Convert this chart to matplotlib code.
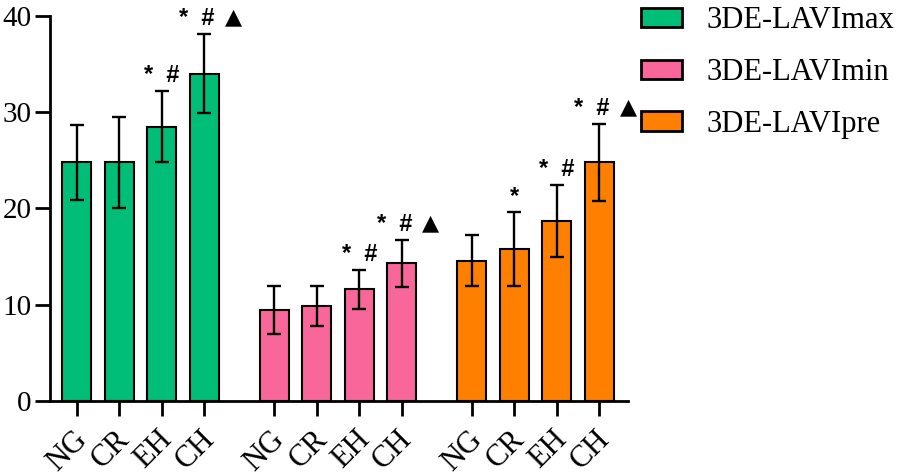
import numpy as np
import matplotlib
matplotlib.use("Agg")
import matplotlib.pyplot as plt
import matplotlib.transforms as mtransforms
from matplotlib.patches import Patch

plt.rcParams['font.family'] = ['Liberation Serif', 'DejaVu Sans']

groups = ['NG', 'CR', 'EH', 'CH']
series = ['3DE-LAVImax', '3DE-LAVImin', '3DE-LAVIpre']
colors = ['#00BE78', '#F9679A', '#FF8000']

means = [
    [24.8, 24.8, 28.5, 34.0],
    [9.5, 9.9, 11.6, 14.3],
    [14.6, 15.8, 18.7, 24.8],
]
errs = [
    [3.9, 4.7, 3.7, 4.1],
    [2.5, 2.1, 2.0, 2.4],
    [2.6, 3.8, 3.7, 4.0],
]
# significance marks above each bar
marks = [
    ['', '', '*  #', '*  #▲'],
    ['', '', '*  #', '*  #▲'],
    ['', '*', '*  #', '*  #▲'],
]

fig = plt.figure(figsize=(9.04, 4.76), dpi=100)
ax = fig.add_axes([0.055, 0.157, 0.64, 0.81])

group_gap = 4.64
width = 0.68
sym = dict(ha='center', va='bottom', fontsize=17, fontweight='bold',
           family='Liberation Sans')
for s in range(len(series)):
    x = np.arange(len(groups)) + s * group_gap
    ax.bar(x, means[s], width=width, color=colors[s], edgecolor='black',
           linewidth=1.5, zorder=2)
    ax.errorbar(x, means[s], yerr=errs[s], fmt='none', ecolor='black',
                elinewidth=1.7, capsize=5, capthick=1.7, zorder=3)
    for xi, m, e, t in zip(x, means[s], errs[s], marks[s]):
        if not t:
            continue
        y = m + e + 0.4
        if t.endswith('▲'):
            ax.text(xi - 0.17, y, t[:-1], **sym)
            ax.text(xi + 0.68, y + 0.3, '▲', ha='center', va='bottom',
                    fontsize=16, family='DejaVu Sans')
        else:
            ax.text(xi, y, t, **sym)

xt = np.concatenate([np.arange(len(groups)) + s * group_gap for s in range(len(series))])
ax.set_xticks(xt)
ax.set_xticklabels(groups * len(series))
ax.set_xlim(-0.635, 12.96)
ax.set_ylim(0, 40)
ax.set_yticks([0, 10, 20, 30, 40])
ax.tick_params(axis='y', labelsize=21, width=2, length=10.5, pad=2.5)
ax.tick_params(axis='x', labelsize=22, width=2, length=10.5, pad=6)
offset = mtransforms.ScaledTranslation(6 / 100, -11 / 100, fig.dpi_scale_trans)
for lab in ax.get_xticklabels():
    lab.set_rotation(45)
    lab.set_ha('right')
    lab.set_va('center')
    lab.set_rotation_mode('anchor')
    lab.set_transform(lab.get_transform() + offset)
for sp in ['top', 'right']:
    ax.spines[sp].set_visible(False)
for sp in ['left', 'bottom']:
    ax.spines[sp].set_linewidth(2)

handles = [Patch(facecolor=c, edgecolor='black', linewidth=2) for c in colors]
fig.legend(handles, series, loc='upper left', bbox_to_anchor=(0.679, 1.045),
           frameon=False, fontsize=22, handlelength=1.34, handleheight=0.6,
           labelspacing=0.75, handletextpad=0.8)

fig.savefig('out.png', dpi=100)
